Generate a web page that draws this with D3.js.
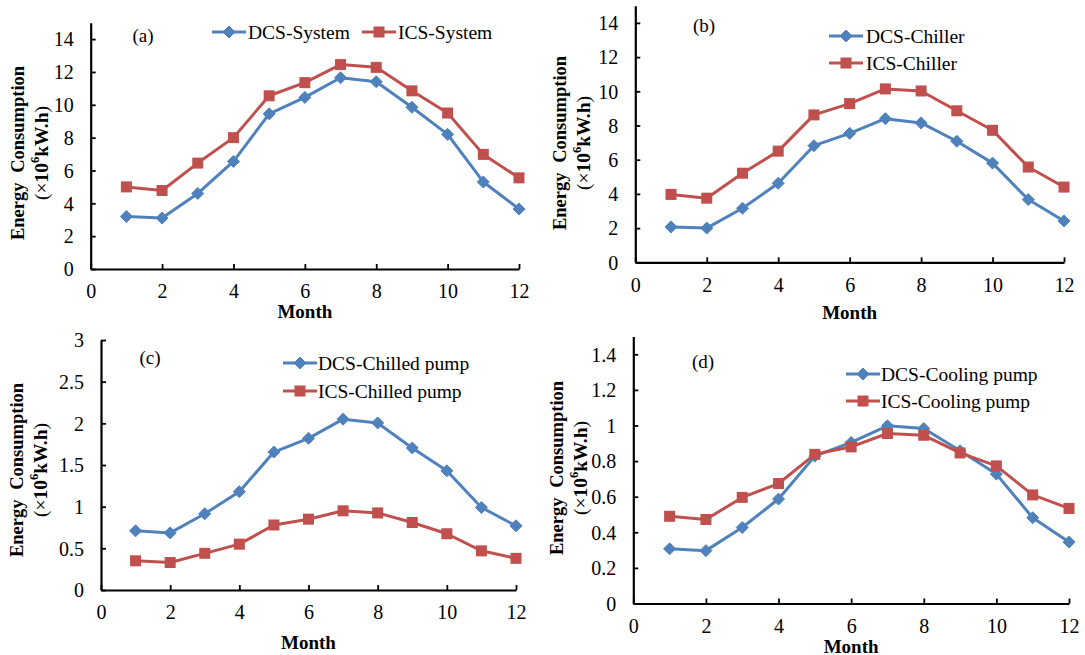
<!DOCTYPE html>
<html>
<head>
<meta charset="utf-8">
<script src="https://cdn.jsdelivr.net/npm/d3@7"></script>
<style>
  html, body { margin: 0; padding: 0; background: #fff; }
  svg { display: block; font-family: "Liberation Serif", "Times New Roman", serif; }
</style>
</head>
<body>
<svg id="chart" width="1085" height="655"></svg>
<script>
// ---------- data ----------
const months = [1, 2, 3, 4, 5, 6, 7, 8, 9, 10, 11, 12];
const xTicks = [0, 2, 4, 6, 8, 10, 12];

const dcsSystem = [3.2, 3.1, 4.6, 6.55, 9.45, 10.45, 11.65, 11.4, 9.85, 8.2, 5.3, 3.65];
const icsSystem = [5.0, 4.78, 6.45, 8.0, 10.55, 11.35, 12.45, 12.28, 10.85, 9.5, 6.98, 5.55];

const dcsChiller = [2.07, 2.0, 3.16, 4.62, 6.82, 7.54, 8.4, 8.15, 7.08, 5.8, 3.67, 2.42];
const icsChiller = [3.97, 3.75, 5.21, 6.5, 8.62, 9.28, 10.14, 10.02, 8.86, 7.72, 5.57, 4.4];

const dcsChilledPump = [0.71, 0.685, 0.915, 1.18, 1.655, 1.82, 2.05, 2.005, 1.705, 1.43, 0.99, 0.77];
const icsChilledPump = [0.35, 0.33, 0.44, 0.55, 0.78, 0.85, 0.95, 0.925, 0.81, 0.675, 0.47, 0.38];

const dcsCoolingPump = [0.307, 0.297, 0.427, 0.587, 0.828, 0.905, 0.998, 0.983, 0.858, 0.727, 0.482, 0.345];
const icsCoolingPump = [0.49, 0.472, 0.596, 0.674, 0.838, 0.88, 0.955, 0.945, 0.846, 0.773, 0.61, 0.534];

const yTicksA = [0, 2, 4, 6, 8, 10, 12, 14];
const yTicksB = [0, 2, 4, 6, 8, 10, 12, 14];
const yTicksC = [0, 0.5, 1, 1.5, 2, 2.5, 3];
const yTicksD = [0, 0.2, 0.4, 0.6, 0.8, 1, 1.2, 1.4];

const labelsA = ["DCS-System", "ICS-System"];
const labelsB = ["DCS-Chiller", "ICS-Chiller"];
const labelsC = ["DCS-Chilled pump", "ICS-Chilled pump"];
const labelsD = ["DCS-Cooling pump", "ICS-Cooling pump"];

const BLUE = "#4F81BD", RED = "#C0504D";

// ---------- layout ----------
const panels = [
  { tag: "(a)", dcs: dcsSystem, ics: icsSystem, yMax: 15, yTicks: yTicksA, labels: labelsA,
    x0: 90.7, x1: 519, yBot: 269, yTop: 22.7, tagX: 143, tagY: 35, yLabX: 18, yLabY: 153, monthY: 311, xPad: 16,
    legend: { items: [{ lx: 212, y: 32, tx: 248 }, { lx: 362, y: 32, tx: 398 }] } },
  { tag: "(b)", dcs: dcsChiller, ics: icsChiller, yMax: 15, yTicks: yTicksB, labels: labelsB,
    x0: 635.3, x1: 1064, yBot: 262.3, yTop: 5.8, tagX: 704, tagY: 25, yLabX: 560, yLabY: 143, monthY: 312, xPad: 17,
    legend: { items: [{ lx: 829, y: 36, tx: 866 }, { lx: 829, y: 63, tx: 866 }] } },
  { tag: "(c)", dcs: dcsChilledPump, ics: icsChilledPump, yMax: 3, yTicks: yTicksC, labels: labelsC,
    x0: 101, x1: 516, yBot: 590, yTop: 340, tagX: 150, tagY: 357, yLabX: 17, yLabY: 470, monthY: 642, xPad: 16,
    legend: { items: [{ lx: 283, y: 363, tx: 318 }, { lx: 283, y: 391, tx: 318 }] } },
  { tag: "(d)", dcs: dcsCoolingPump, ics: icsCoolingPump, yMax: 1.5, yTicks: yTicksD, labels: labelsD,
    x0: 633.3, x1: 1069, yBot: 603.5, yTop: 336.5, tagX: 703, tagY: 361, yLabX: 557, yLabY: 468, monthY: 646, xPad: 16,
    legend: { items: [{ lx: 846, y: 374, tx: 881 }, { lx: 846, y: 401, tx: 881 }] } }
];

const svg = d3.select("#chart");
const FONT = 20;
const LEGFONT = 19.5;

function drawMarker(g, kind, cx, cy) {
  if (kind === "diamond") {
    const r = 6;
    g.append("path")
      .attr("d", `M${cx},${cy - r}L${cx + r},${cy}L${cx},${cy + r}L${cx - r},${cy}Z`)
      .attr("fill", BLUE).attr("stroke", BLUE).attr("stroke-width", 1);
  } else {
    const s = 11;
    g.append("rect").attr("x", cx - s / 2).attr("y", cy - s / 2)
      .attr("width", s).attr("height", s).attr("fill", RED);
  }
}

panels.forEach(p => {
  const g = svg.append("g");
  const x = d3.scaleLinear().domain([0, 12]).range([p.x0, p.x1]);
  const y = d3.scaleLinear().domain([0, p.yMax]).range([p.yBot, p.yTop]);

  const series = [
    { vals: p.dcs, color: BLUE, kind: "diamond" },
    { vals: p.ics, color: RED, kind: "square" }
  ];
  series.forEach(s => {
    const line = d3.line().x((d, i) => x(months[i])).y(d => y(d));
    g.append("path").datum(s.vals).attr("d", line)
      .attr("fill", "none").attr("stroke", s.color).attr("stroke-width", 3)
      .attr("stroke-linejoin", "round");
    s.vals.forEach((v, i) => drawMarker(g, s.kind, x(months[i]), y(v)));
  });

  // axes
  const yAxis = d3.axisLeft(y).tickValues(p.yTicks).tickSizeInner(-5).tickSizeOuter(0).tickPadding(17)
    .tickFormat(d3.format("~g"));
  const xAxis = d3.axisBottom(x).tickValues(xTicks).tickSizeInner(-5).tickSizeOuter(0).tickPadding(p.xPad)
    .tickFormat(d3.format("~g"));

  const ya = g.append("g").attr("transform", `translate(${p.x0},0)`).call(yAxis);
  const xa = g.append("g").attr("transform", `translate(0,${p.yBot})`).call(xAxis);
  [ya, xa].forEach(a => {
    a.select(".domain").attr("stroke", "#000").attr("stroke-width", 2.2);
    a.selectAll(".tick line").attr("stroke", "#000").attr("stroke-width", 1.8);
    a.selectAll(".tick text").attr("fill", "#000").attr("font-size", FONT)
      .attr("font-family", "Liberation Serif");
  });
  ya.selectAll(".tick text").attr("dy", "0.34em");
  xa.selectAll(".tick text").attr("dy", "0.66em");

  // month label
  g.append("text").attr("x", (p.x0 + p.x1) / 2).attr("y", p.monthY)
    .attr("text-anchor", "middle").attr("dominant-baseline", "central")
    .attr("font-size", 19).attr("font-weight", "bold").text("Month");

  // y label (two lines rotated)
  const yl = g.append("g").attr("transform", `translate(${p.yLabX},${p.yLabY}) rotate(-90)`);
  yl.append("text").attr("x", 0).attr("y", 0).attr("text-anchor", "middle")
    .attr("dominant-baseline", "central").attr("font-size", 18.5).attr("font-weight", "bold")
    .attr("word-spacing", "5px")
    .text("Energy Consumption");
  const t2 = yl.append("text").attr("x", 0).attr("y", 23).attr("text-anchor", "middle")
    .attr("dominant-baseline", "central").attr("font-size", 19.5);
  t2.append("tspan").text("(×");
  t2.append("tspan").attr("font-weight", "bold").text("10");
  t2.append("tspan").attr("font-weight", "bold").attr("font-size", 12.5).attr("dy", -6).text("6");
  t2.append("tspan").attr("font-weight", "bold").attr("dy", 6).text("kW.h");
  t2.append("tspan").text(")");

  // panel tag
  g.append("text").attr("x", p.tagX).attr("y", p.tagY).attr("text-anchor", "middle")
    .attr("dominant-baseline", "central").attr("font-size", 19).text(p.tag);

  // legend
  const kinds = [{ color: BLUE, kind: "diamond" }, { color: RED, kind: "square" }];
  p.legend.items.forEach((it, i) => {
    const k = kinds[i];
    g.append("line").attr("x1", it.lx).attr("x2", it.lx + 34).attr("y1", it.y).attr("y2", it.y)
      .attr("stroke", k.color).attr("stroke-width", 3);
    drawMarker(g, k.kind, it.lx + 17, it.y);
    g.append("text").attr("x", it.tx).attr("y", it.y).attr("dominant-baseline", "central")
      .attr("font-size", LEGFONT).text(p.labels[i]);
  });
});
</script>
</body>
</html>
